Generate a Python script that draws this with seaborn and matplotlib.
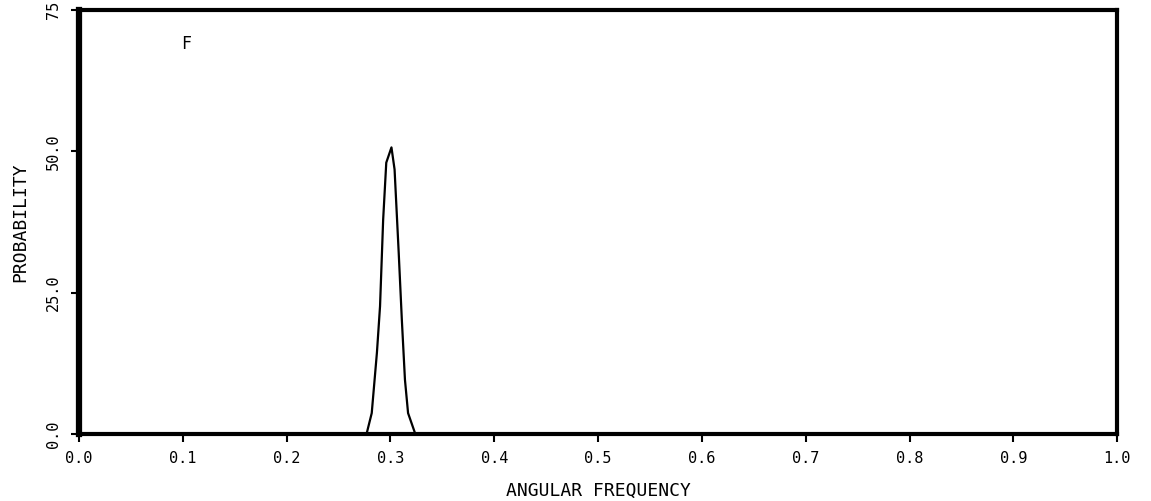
import numpy as np
import pandas as pd
import matplotlib
matplotlib.use("Agg")
import matplotlib.pyplot as plt
import seaborn as sns

# Data
freq = [0.0, 0.1, 0.2, 0.25, 0.277, 0.282, 0.287, 0.290, 0.293, 0.296, 0.301,
        0.304, 0.308, 0.311, 0.314, 0.317, 0.324, 0.35, 0.5, 0.7, 0.9, 1.0]
prob = [0.0, 0.0, 0.0, 0.0, 0.0, 3.7, 14.4, 22.6, 37.9, 48.0, 50.7,
        46.8, 32.0, 20.2, 9.6, 3.7, 0.0, 0.0, 0.0, 0.0, 0.0, 0.0]
x_ticks = [0.0, 0.1, 0.2, 0.3, 0.4, 0.5, 0.6, 0.7, 0.8, 0.9, 1.0]
x_ticklabels = ["0.0", "0.1", "0.2", "0.3", "0.4", "0.5", "0.6", "0.7", "0.8", "0.9", "1.0"]
y_ticks = [0, 25, 50, 75]
y_ticklabels = ["0.0", "25.0", "50.0", "75"]
panel_label = "F"

sns.set_theme(style="white")
plt.rcParams['font.family'] = ['DejaVu Sans Mono', 'DejaVu Sans']
plt.rcParams['text.color'] = 'black'
plt.rcParams['axes.labelcolor'] = 'black'
plt.rcParams['xtick.color'] = 'black'
plt.rcParams['ytick.color'] = 'black'

df = pd.DataFrame({"freq": freq, "prob": prob})

fig = plt.figure(figsize=(11.51, 5.01), dpi=100)
ax = fig.add_axes([0.0686, 0.1337, 0.902, 0.8463])
sns.lineplot(data=df, x="freq", y="prob", ax=ax, color="black", linewidth=1.6)

ax.set_xlim(0, 1)
ax.set_ylim(0, 75)
ax.set_xticks(x_ticks)
ax.set_xticklabels(x_ticklabels, fontsize=11)
ax.set_yticks(y_ticks)
ax.set_yticklabels(y_ticklabels, fontsize=11, rotation=90, va="center")
ax.tick_params(axis="both", direction="out", length=6, width=1.5, color="black",
               labelcolor="black", bottom=True, left=True)
ax.tick_params(axis="x", pad=6)
ax.tick_params(axis="y", pad=7)
ax.set_xlabel("ANGULAR FREQUENCY", fontsize=13, labelpad=12, color="black")
ax.set_ylabel("PROBABILITY", fontsize=13, labelpad=12, color="black")
for side, lw in [("left", 4.5), ("bottom", 3), ("top", 3), ("right", 3)]:
    ax.spines[side].set_visible(True)
    ax.spines[side].set_color("black")
    ax.spines[side].set_linewidth(lw)
ax.text(0.103, 69, panel_label, fontsize=12, ha="center", va="center", color="black")
ax.grid(False)

fig.savefig("out.png", dpi=100, facecolor="white")
